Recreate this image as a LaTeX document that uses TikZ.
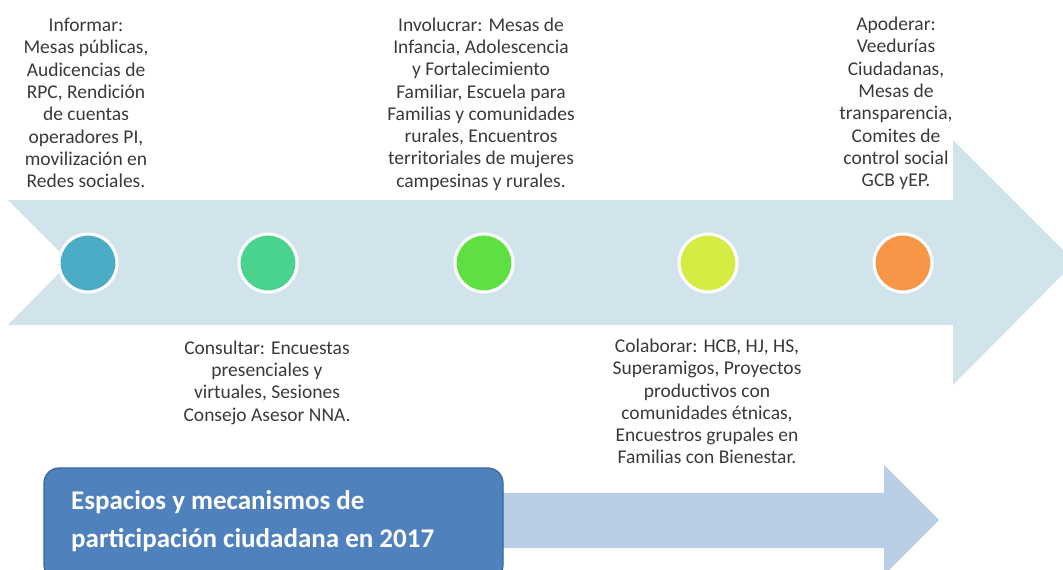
\documentclass[tikz,border=0pt]{standalone}
\usepackage{fontspec}
\setmainfont{Carlito}
\definecolor{bigarrow}{HTML}{D2E4EB}
\definecolor{smallarrow}{HTML}{B9CDE5}
\definecolor{boxfill}{HTML}{4F81BD}
\definecolor{boxline}{HTML}{3A6696}
\definecolor{txtgray}{HTML}{3A3A3A}
\definecolor{cA}{HTML}{4BACC6}
\definecolor{cB}{HTML}{49D38F}
\definecolor{cC}{HTML}{5EE042}
\definecolor{cD}{HTML}{D7EB45}
\definecolor{cE}{HTML}{F79646}
\tikzset{
  dot/.style={circle, minimum size=58pt, inner sep=0pt, draw=white, line width=3pt},
  lbl/.style={align=center, inner sep=0pt, text=txtgray, font=\fontsize{19.5}{22.3}\selectfont},
  titlebox/.style={rounded corners=15pt, fill=boxfill, draw=boxline, line width=1.2pt}
}
\begin{document}
\begin{tikzpicture}[x=1pt, y=-1pt]
\useasboundingbox (0,0) rectangle (1063,570);
\begin{scope}
\clip (0,0) rectangle (1063,570);
% big arrow
\fill[bigarrow] (8,200) -- (953,200) -- (953,140) -- (1075,262) -- (953,385) -- (953,325) -- (8,325) -- (70,262) -- cycle;
% small arrow
\fill[smallarrow] (480,493) -- (884,493) -- (884,465) -- (939,520) -- (884,575) -- (884,548) -- (480,548) -- cycle;
% title box
\draw[titlebox] (44,468) rectangle (503,580);
\end{scope}
\node[anchor=west, align=left, text=white, inner sep=0pt,
  font=\fontsize{27}{38}\selectfont\bfseries] (title) at (71,521.5) {Espacios y mecanismos de\\participación ciudadana en 2017};
% circles
\node[dot, fill=cA] (d1) at (88,263) {};
\node[dot, fill=cB] (d2) at (268,263) {};
\node[dot, fill=cC] (d3) at (484,263) {};
\node[dot, fill=cD] (d4) at (708,263) {};
\node[dot, fill=cE] (d5) at (903,263) {};
% labels
\node[lbl] (t1) at (86,103) {Informar:\\Mesas públicas,\\Audicencias de\\RPC, Rendición\\de cuentas\\operadores PI,\\movilización en\\Redes sociales.};
\node[lbl] (t3) at (481,104) {Involucrar: Mesas de\\Infancia, Adolescencia\\y Fortalecimiento\\Familiar, Escuela para\\Familias y comunidades\\rurales, Encuentros\\territoriales de mujeres\\campesinas y rurales.};
\node[lbl] (t5) at (896,103.5) {Apoderar:\\Veedurías\\Ciudadanas,\\Mesas de\\transparencia,\\Comites de\\control social\\GCB yEP.};
\node[lbl] (t2) at (267,382.5) {Consultar: Encuestas\\presenciales y\\virtuales, Sesiones\\Consejo Asesor NNA.};
\node[lbl] (t4) at (707,401.5) {Colaborar: HCB, HJ, HS,\\Superamigos, Proyectos\\productivos con\\comunidades étnicas,\\Encuestros grupales en\\Familias con Bienestar.};
\end{tikzpicture}
\end{document}
